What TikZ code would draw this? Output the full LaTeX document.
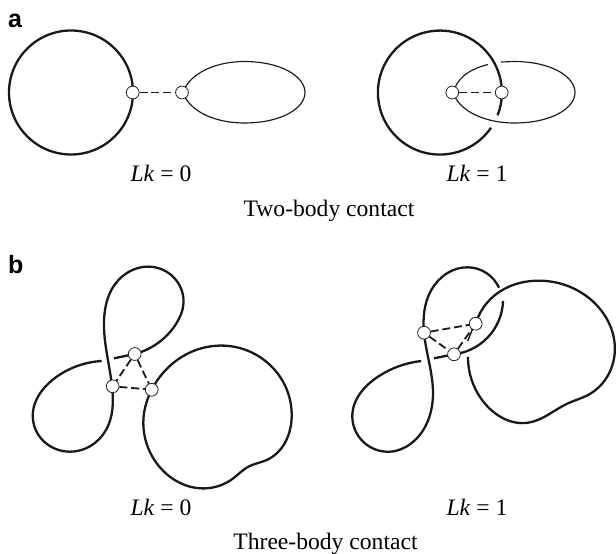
\documentclass[tikz,border=0pt]{standalone}
\usepackage{fontspec}
\usetikzlibrary{hobby}
\setmainfont{Liberation Serif}
\newfontfamily\panelfont{Liberation Sans}
\begin{document}
\begin{tikzpicture}[x=1pt,y=-1pt,
  strand/.style={line width=2.3pt,line cap=butt,black!90},
  thinstrand/.style={line width=1.15pt,black!90},
  contact/.style={circle,draw=black!85,fill=white,line width=0.8pt,minimum size=12.8pt,inner sep=0pt},
  link/.style={line width=1.8pt,dash pattern=on 8pt off 3.8pt,black!90},
  lab/.style={anchor=base,font=\fontsize{23.6}{26}\selectfont,inner sep=0pt},
  panel/.style={anchor=base west,font=\panelfont\bfseries\fontsize{25}{27}\selectfont,inner sep=0pt}]
\useasboundingbox (0,0) rectangle (616,554);
% panel a, left
\draw[strand] (71,92.5) circle[radius=62];
\draw[thinstrand] (183,92.5) .. controls (190,72) and (218,61.5) .. (244,61.5) .. controls (282,61.5) and (305,77) .. (305,92.5) .. controls (305,108) and (282,123) .. (244,123) .. controls (218,123) and (190,113) .. (183,92.5) -- cycle;
\node[contact] (a1) at (132.7,92.5) {};
\node[contact] (a2) at (182,92.5) {};
\draw[link] (a1) -- (a2);
% panel a, right
\draw[strand] (491,127.7) arc[start angle=34.5,end angle=381.5,radius=62];
\draw[thinstrand] (488,64.5) .. controls (466,70) and (457,80) .. (453,92.5) .. controls (460,113) and (488,123) .. (514,123) .. controls (552,123) and (575,108) .. (575,92.5) .. controls (575,77) and (552,61.5) .. (514,61.5) -- (501,62);
\node[contact] (a3) at (452.3,92.5) {};
\node[contact] (a4) at (501.7,92.5) {};
\draw[link] (a3) -- (a4);
% panel b, left
\draw[strand,use Hobby shortcut] (134.7,354) .. (176,324) .. (183.5,303) .. (155,267.3) .. (113.3,286.7) .. (105,310) .. (112,386) .. (106,430) .. (70,451.7) .. (33,420) .. (56.7,376.7) .. (101.7,361);
\draw[strand] (114,358.3) -- (134.7,354);
\draw[strand,use Hobby shortcut,closed=true] (151.7,389.7) .. (216.7,345.7) .. (273.3,368.3) .. (291.7,416.7) .. (266.7,460) .. (248.3,466.7) .. (233.3,478.3) .. (206.7,488.3) .. (156.7,463.3) .. (143.5,418);
\node[contact] (b1) at (134.7,354) {};
\node[contact] (b2) at (112.7,386.3) {};
\node[contact] (b3) at (151.7,389.7) {};
\draw[link] (b1) -- (b2);
\draw[link] (b2) -- (b3);
\draw[link] (b1) -- (b3);
% panel b, right
\draw[strand,use Hobby shortcut] (454,354.3) .. (491.3,333.3) .. (503,301);
\draw[strand,use Hobby shortcut] (499,287.7) .. (468,267.3) .. (431.3,290) .. (424,332.7) .. (433,393.3) .. (411.3,443.3) .. (389.7,451.7) .. (352.3,416.7) .. (378,376.7) .. (421.3,361);
\draw[strand] (434,358.3) -- (454,354.3);
\draw[strand,use Hobby shortcut] (468,356.7) .. (484.7,403.3) .. (528,422.7) .. (568,403.3) .. (588,395) .. (614.7,353.3) .. (591.3,300) .. (541.3,280.7) .. (491.3,298.3) .. (475.7,323.7);
\draw[strand,line width=1.4pt] (472.5,329) -- (467.7,341);
\node[contact] (c1) at (424,332.7) {};
\node[contact] (c2) at (475.7,323.7) {};
\node[contact] (c3) at (454,354.3) {};
\draw[link] (c1) -- (c2);
\draw[link] (c1) -- (c3);
\draw[link] (c3) -- (c2);
% labels
\node[panel] (pa) at (8,27.5) {a};
\node[panel] (pb) at (8,273) {b};
\node[lab] (l1) at (161,181) {\textit{Lk} = 0};
\node[lab] (l2) at (477,181) {\textit{Lk} = 1};
\node[lab] (t1) at (329,216.5) {Two-body contact};
\node[lab] (l3) at (161,515) {\textit{Lk} = 0};
\node[lab] (l4) at (477,515) {\textit{Lk} = 1};
\node[lab] (t2) at (325.5,549) {Three-body contact};
\end{tikzpicture}
\end{document}
